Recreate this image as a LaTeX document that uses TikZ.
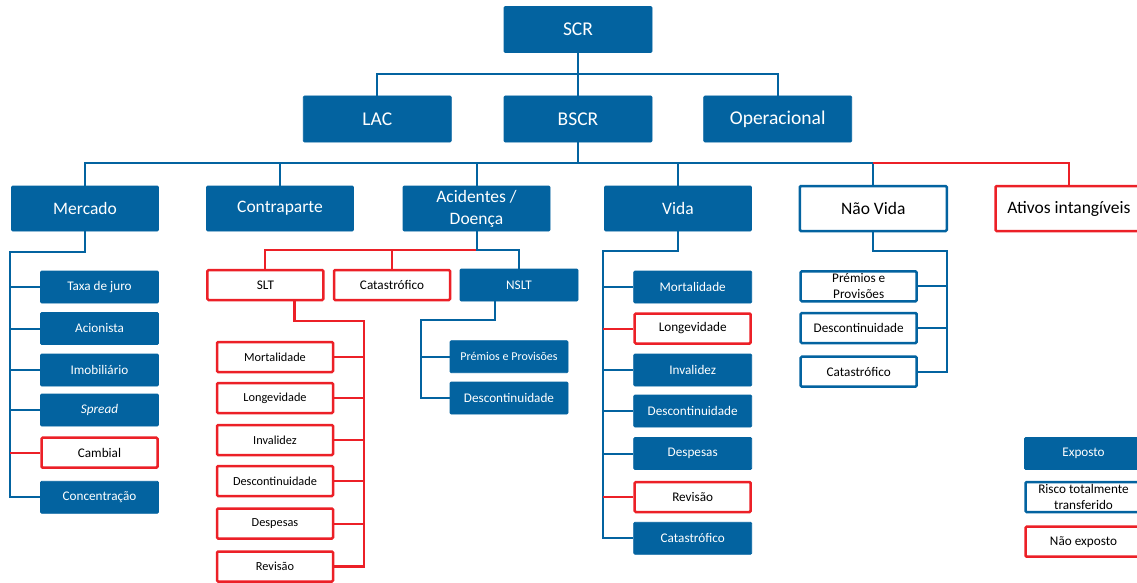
\documentclass[tikz,border=0pt]{standalone}
\usepackage{fontspec}
\setmainfont{Carlito}
\usetikzlibrary{calc}
\definecolor{cblue}{RGB}{3,99,160}
\definecolor{cred}{RGB}{236,32,39}
\tikzset{
  box/.style={rectangle, rounded corners=1.2pt, inner sep=0pt, align=center},
  bfill/.style={box, fill=cblue, draw=cblue, line width=0.8pt, text=white},
  bline/.style={box, fill=white, draw=cblue, line width=2.5pt, text=black},
  rline/.style={box, fill=white, draw=cred, line width=2.5pt, text=black},
  lvlA/.style={minimum width=148pt, minimum height=46pt, font=\fontsize{19.5}{23}\selectfont},
  lvlB/.style={minimum width=147pt, minimum height=45pt, font=\fontsize{17.5}{22}\selectfont},
  lvlC/.style={minimum width=118pt, minimum height=32pt, font=\fontsize{13.2}{16}\selectfont},
  lvlD/.style={minimum width=116pt, minimum height=30pt, font=\fontsize{12.3}{15}\selectfont},
  bcon/.style={draw=cblue, line width=2pt},
  rcon/.style={draw=cred, line width=2pt},
}
\begin{document}
\begin{tikzpicture}[x=1pt,y=-1pt]
\useasboundingbox (0,0) rectangle (1137,583);
\clip (0,0) rectangle (1137,583);
% level 0/1
\node[bfill,lvlA] (scr) at (578,29.5) {SCR};
\node[bfill,lvlA] (lac) at (377.3,119) {LAC};
\node[bfill,lvlA] (bscr) at (578,119) {BSCR};
\node[bfill,lvlA] (oper) at (777.7,119) {Operacional};
% level 2
\node[bfill,lvlB] (merc) at (85,208.5) {Mercado};
\node[bfill,lvlB] (contra) at (280,208.5) {Contraparte};
\node[bfill,lvlB] (acid) at (476.5,208.5) {Acidentes /\\Doença};
\node[bfill,lvlB] (vida) at (678,208.5) {Vida};
\node[bline,lvlB] (naovida) at (873.3,208.5) {Não Vida};
\node[rline,lvlB] (ativos) at (1069,208.5) {Ativos intangíveis};
% Mercado children
\node[bfill,lvlC] (mtaxa) at (99.5,287) {Taxa de juro};
\node[bfill,lvlC] (macio) at (99.5,328.5) {Acionista};
\node[bfill,lvlC] (mimob) at (99.5,370) {Imobiliário};
\node[bfill,lvlC] (mspread) at (99.5,410) {\itshape Spread};
\node[rline,lvlC,minimum width=116pt,minimum height=30pt] (mcamb) at (99.5,452.7) {Cambial};
\node[bfill,lvlC] (mconc) at (99.5,497.3) {Concentração};
% Acidentes children
\node[rline,lvlC,minimum width=116pt,minimum height=30pt] (slt) at (265.4,285) {SLT};
\node[rline,lvlC,minimum width=116pt,minimum height=30pt] (acat) at (392,285) {Catastrófico};
\node[bfill,lvlC] (nslt) at (519,285) {NSLT};
% SLT children
\node[rline,lvlD] (smort) at (275,357) {Mortalidade};
\node[rline,lvlD] (slong) at (275,398) {Longevidade};
\node[rline,lvlD] (sinv) at (275,440) {Invalidez};
\node[rline,lvlD] (sdesc) at (275,481) {Descontinuidade};
\node[rline,lvlD] (sdesp) at (275,523.5) {Despesas};
\node[rline,lvlD] (srev) at (275,566.5) {Revisão};
% NSLT children
\node[bfill,lvlC,font=\fontsize{12}{15}\selectfont] (nprem) at (509,356.7) {Prémios e Provisões};
\node[bfill,lvlC] (ndesc) at (509,398) {Descontinuidade};
% Vida children
\node[bfill,lvlC] (vmort) at (692.7,287) {Mortalidade};
\node[rline,lvlC,minimum width=116pt,minimum height=30pt] (vlong) at (692.7,328.5) {Longevidade};
\node[bfill,lvlC] (vinv) at (692.7,370) {Invalidez};
\node[bfill,lvlC] (vdesc) at (692.7,411) {Descontinuidade};
\node[bfill,lvlC] (vdesp) at (692.7,453.5) {Despesas};
\node[rline,lvlC,minimum width=116pt,minimum height=30pt] (vrev) at (692.7,497) {Revisão};
\node[bfill,lvlC] (vcat) at (692.7,538.3) {Catastrófico};
% Nao Vida children
\node[bline,lvlC,minimum width=116pt,minimum height=30pt] (nvprem) at (858.7,286.3) {Prémios e\\Provisões};
\node[bline,lvlC,minimum width=116pt,minimum height=30pt] (nvdesc) at (858.7,328) {Descontinuidade};
\node[bline,lvlC,minimum width=116pt,minimum height=30pt] (nvcat) at (858.7,371.7) {Catastrófico};
% legend
\node[bfill,lvlC] (lexp) at (1083.5,453.5) {Exposto};
\node[bline,lvlC,minimum width=116pt,minimum height=30pt] (lrisco) at (1083.5,497) {Risco totalmente\\transferido};
\node[rline,lvlC,minimum width=116pt,minimum height=30pt] (lnao) at (1083.5,541.7) {Não exposto};
% connectors level 0-1
\coordinate (b1) at (578,74);
\draw[bcon] (scr.south) -- (bscr.north);
\draw[bcon] (lac.north) |- (b1) -| (oper.north);
% level 1-2
\coordinate (b2) at (578,163);
\draw[bcon] (bscr.south) -- (b2);
\draw[bcon] (merc.north) |- (b2) -| (naovida.north);
\draw[bcon] (contra.north) -- (contra.north |- b2);
\draw[bcon] (acid.north) -- (acid.north |- b2);
\draw[bcon] (vida.north) -- (vida.north |- b2);
\draw[rcon] (naovida.north |- b2) -| (ativos.north);
% Mercado
\coordinate (m1) at (10,252);
\draw[bcon] (merc.south) |- (m1) |- (mconc.west);
\foreach \n in {mtaxa,macio,mimob,mspread} \draw[bcon] (\n.west) -- (\n.west -| m1);
\draw[rcon] (mcamb.west) -- (mcamb.west -| m1);
% Acidentes
\coordinate (b3) at (476.5,250);
\draw[rcon] (b3) -| (slt.north);
\draw[rcon] (acat.north) -- (acat.north |- b3);
\draw[bcon] (acid.south) -- (b3) -| (nslt.north);
% SLT
\coordinate (s1) at (364,321);
\draw[rcon,line width=2.6pt] ([xshift=29pt]slt.south) |- (s1) |- (srev.east);
\foreach \n in {smort,slong,sinv,sdesc,sdesp} \draw[rcon] (\n.east) -- (\n.east -| s1);
% NSLT
\coordinate (n1) at (420.7,320);
\draw[bcon] ([xshift=-24pt]nslt.south) |- (n1) |- (ndesc.west);
\draw[bcon] (nprem.west) -- (nprem.west -| n1);
% Vida
\coordinate (v1) at (602.7,251);
\draw[bcon] (vida.south) |- (v1) |- (vcat.west);
\foreach \n in {vmort,vinv,vdesc,vdesp} \draw[bcon] (\n.west) -- (\n.west -| v1);
\foreach \n in {vlong,vrev} \draw[rcon] (\n.west) -- (\n.west -| v1);
% Nao Vida
\coordinate (nv1) at (947,251);
\draw[bcon] (naovida.south) |- (nv1) |- (nvcat.east);
\foreach \n in {nvprem,nvdesc} \draw[bcon] (\n.east) -- (\n.east -| nv1);
\end{tikzpicture}
\end{document}
